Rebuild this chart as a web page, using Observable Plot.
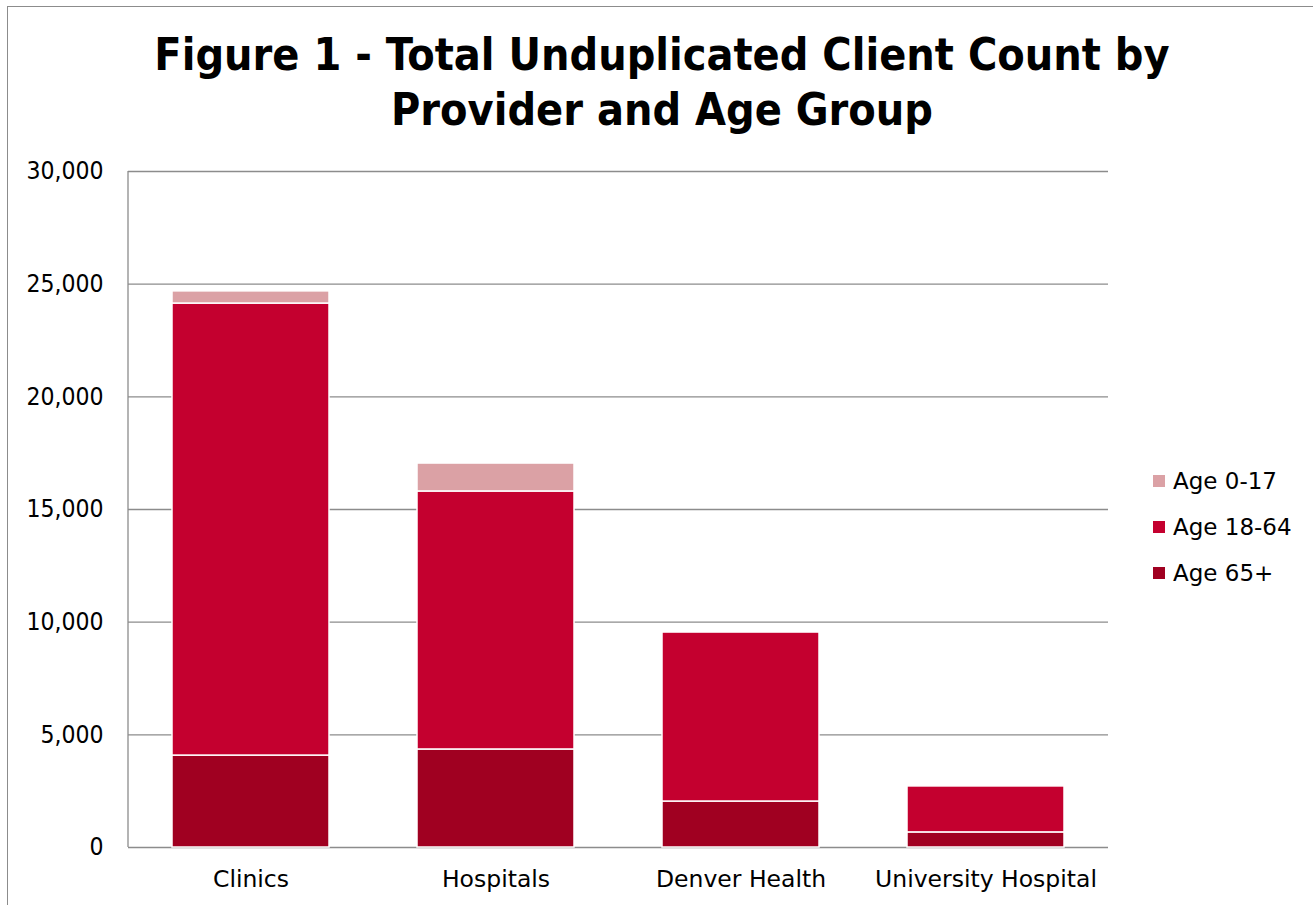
<!DOCTYPE html>
<html>
<head>
<meta charset="utf-8">
<script src="https://cdn.jsdelivr.net/npm/d3@7"></script>
<script src="https://cdn.jsdelivr.net/npm/@observablehq/plot@0.6"></script>
<style>
  html, body { margin: 0; padding: 0; background: #fff; width: 1313px; height: 905px; overflow: hidden; }
  body { position: relative; font-family: "DejaVu Sans", sans-serif; }
  #frame { position: absolute; left: 7px; top: 6px; width: 1330px; height: 940px; border: 1.5px solid #8c8c8c; box-sizing: border-box; }
  #title { position: absolute; left: 0; top: 27px; width: 1324px; text-align: center; font-family: "DejaVu Sans Condensed", "DejaVu Sans", sans-serif; font-weight: bold; font-size: 44.5px; line-height: 55px; color: #000; }
  #chart { position: absolute; left: 0; top: 140px; }
  #legend { position: absolute; left: 1153px; top: 458px; font-size: 23px; color: #000; font-family: "DejaVu Sans", sans-serif; }
  #legend .row { display: flex; align-items: center; height: 46px; }
  #legend .sw { width: 12px; height: 12px; margin-right: 8px; }
  .yax text { font-family: "DejaVu Sans Condensed", "DejaVu Sans", sans-serif; font-size: 24.5px; }
  .xax text { font-family: "DejaVu Sans", sans-serif; font-size: 23.5px; }
</style>
</head>
<body>
<div id="frame"></div>
<div id="title">Figure 1 - Total Unduplicated Client Count by<br>Provider and Age Group</div>
<div id="chart"></div>
<div id="legend"></div>
<script>
const providers = ["Clinics", "Hospitals", "Denver Health", "University Hospital"];
const ageGroups = ["Age 0-17", "Age 18-64", "Age 65+"];
const age0_17 = [540, 1240, 0, 0];
const age18_64 = [20060, 11450, 7500, 2040];
const age65plus = [4080, 4350, 2040, 670];
const yTicks = [0, 5000, 10000, 15000, 20000, 25000, 30000];
const colors = ["#dba1a5", "#c4002f", "#a00021"];

const data = providers.flatMap((p, i) => [
  {provider: p, age: "Age 65+", value: age65plus[i]},
  {provider: p, age: "Age 18-64", value: age18_64[i]},
  {provider: p, age: "Age 0-17", value: age0_17[i]}
]);

const plot = Plot.plot({
  width: 1313,
  height: 765,
  marginLeft: 128,
  marginRight: 205,
  marginTop: 31,
  marginBottom: 58,
  style: {fontFamily: '"DejaVu Sans", sans-serif', fontSize: "23px", color: "#000", background: "transparent", overflow: "visible"},
  x: {domain: providers, paddingInner: 0.36, paddingOuter: 0.18, label: null},
  y: {domain: [0, 30000], label: null},
  color: {domain: ageGroups, range: colors},
  marks: [
    Plot.gridY(yTicks, {stroke: "#8c8c8c", strokeOpacity: 1, strokeWidth: 1.3}),
    Plot.axisY(yTicks, {tickFormat: d3.format(","), tickSize: 0, tickPadding: 25, className: "yax"}),
    Plot.axisX({tickSize: 0, tickPadding: 23, className: "xax"}),
    Plot.barY(data, {x: "provider", y: "value", fill: "age", stroke: "white", strokeWidth: 1.5,
      order: ["Age 65+", "Age 18-64", "Age 0-17"]})
  ]
});
document.getElementById("chart").appendChild(plot);

// left axis line derived from scales
const ys = plot.scale("y");
d3.select(plot).append("line")
  .attr("x1", 128).attr("x2", 128)
  .attr("y1", ys.range[0]).attr("y2", ys.range[1])
  .attr("stroke", "#8c8c8c").attr("stroke-width", 1.3);

const legend = d3.select("#legend");
ageGroups.forEach((g, i) => {
  const row = legend.append("div").attr("class", "row");
  row.append("div").attr("class", "sw").style("background", colors[i]);
  row.append("span").text(g);
});
</script>
</body>
</html>
